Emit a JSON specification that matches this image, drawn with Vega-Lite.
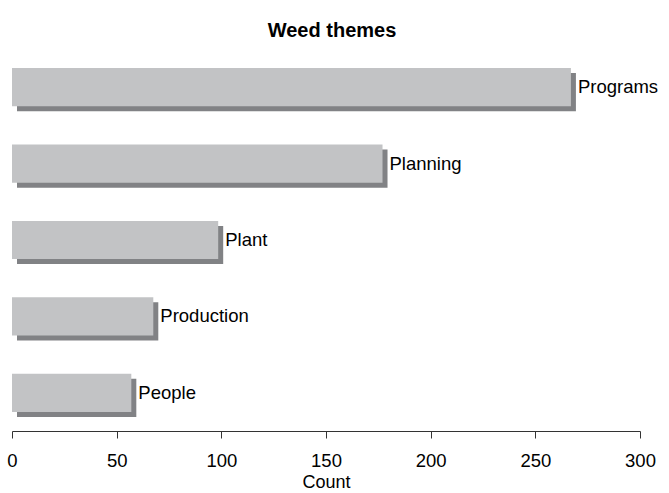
{
  "$schema": "https://vega.github.io/schema/vega-lite/v6.json",
  "width": 628,
  "height": 382,
  "autosize": {"type": "none"},
  "padding": {"left": 12, "top": 49, "right": 29, "bottom": 62},
  "background": "white",
  "config": {
    "view": {"stroke": null},
    "font": "Liberation Sans"
  },
  "title": {
    "text": "Weed themes",
    "font": "Liberation Sans",
    "fontSize": 20,
    "fontWeight": "bold",
    "color": "black",
    "anchor": "middle",
    "offset": 8,
    "dx": 6
  },
  "data": {
    "values": [
      {"theme": "Programs", "count": 267},
      {"theme": "Planning", "count": 177},
      {"theme": "Plant", "count": 98.5},
      {"theme": "Production", "count": 67.5},
      {"theme": "People", "count": 57}
    ]
  },
  "encoding": {
    "y": {
      "field": "theme",
      "type": "nominal",
      "sort": {"field": "count", "order": "descending"},
      "scale": {"paddingInner": 0.5, "paddingOuter": 0.25},
      "axis": null
    },
    "x": {
      "field": "count",
      "type": "quantitative",
      "scale": {"domain": [0, 300], "nice": false},
      "axis": {
        "title": "Count",
        "values": [0, 50, 100, 150, 200, 250, 300],
        "grid": false,
        "labelFlush": false,
        "domainColor": "#333333",
        "tickColor": "#333333",
        "tickSize": 7,
        "labelFontSize": 18.5,
        "labelColor": "black",
        "labelPadding": 13,
        "titleFontSize": 18,
        "titleFontWeight": "normal",
        "titleColor": "black",
        "titlePadding": 4
      }
    }
  },
  "layer": [
    {"mark": {"type": "bar", "color": "#818285", "xOffset": 5, "yOffset": 5}},
    {"mark": {"type": "bar", "color": "#c2c3c5"}},
    {
      "mark": {"type": "text", "align": "left", "baseline": "middle", "dx": 7, "fontSize": 18.5, "color": "black", "font": "Liberation Sans"},
      "encoding": {"text": {"field": "theme"}}
    }
  ]
}
